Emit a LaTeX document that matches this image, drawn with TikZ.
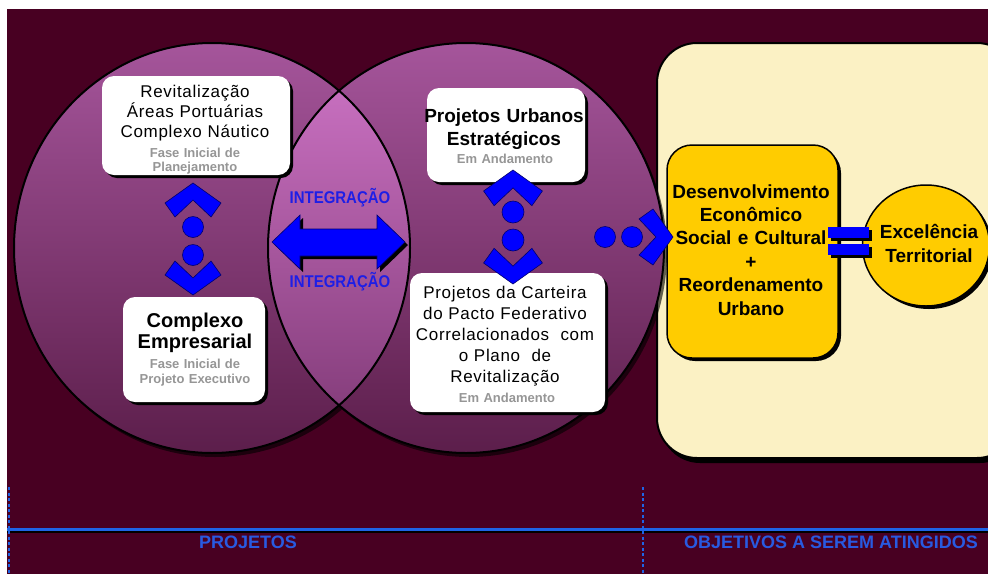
\documentclass[tikz,border=0pt]{standalone}
\usepackage{fontspec}
\setmainfont{Liberation Sans}
\newfontfamily\spacedfont[LetterSpace=4]{Liberation Sans}
\usetikzlibrary{shadows,shapes.geometric}
\definecolor{bgc}{RGB}{72,0,34}
\definecolor{circtop}{RGB}{165,85,155}
\definecolor{circbot}{RGB}{92,30,75}
\definecolor{intertop}{RGB}{208,118,200}
\definecolor{interbot}{RGB}{125,55,115}
\definecolor{cream}{RGB}{251,241,196}
\definecolor{gold}{RGB}{255,204,0}
\definecolor{conblue}{RGB}{0,0,255}
\definecolor{navy}{RGB}{0,0,110}
\definecolor{lineblue}{RGB}{30,100,230}
\definecolor{labblue}{RGB}{40,90,225}
\definecolor{intblue}{RGB}{30,30,230}
\definecolor{statgray}{RGB}{150,150,150}
\newcommand\myfs[2]{\fontsize{#1}{#2}\selectfont}
\tikzset{
  whitebox/.style={fill=white, draw=none, rounded corners=12pt, inner sep=0pt,
    drop shadow={shadow xshift=3pt, shadow yshift=-3pt, opacity=1, fill=black}},
  titletxt/.style={anchor=base, text width=230pt, align=center, inner sep=0pt, text=black},
  stattxt/.style={anchor=base, text width=200pt, align=center, inner sep=0pt, text=statgray,
    font=\bfseries\myfs{13}{14.5}},
  chevshape/.style={fill=conblue, draw=navy, line width=0.6pt},
  dotshape/.style={fill=conblue, draw=navy, line width=0.6pt},
  chev/.pic={\path[chevshape] (0,0) -- (28,20) -- (18,34) -- (0,17) -- (-18,34) -- (-28,20) -- cycle;},
  inttxt/.style={text=intblue, font=\bfseries\myfs{17}{20}, inner sep=0pt},
  labtxt/.style={text=labblue, font=\bfseries\myfs{18}{20}, inner sep=0pt},
}
\begin{document}
\begin{tikzpicture}[x=1pt,y=-1pt]
\useasboundingbox (0,0) rectangle (988,574);
% background
\fill[white] (0,0) rectangle (988,574);
\fill[bgc] (7,9) rectangle (988,574);

% objectives panel
\node[fill=cream, draw=black, line width=2pt, rounded corners=40pt, minimum width=360pt,
  minimum height=415pt, inner sep=0pt,
  drop shadow={shadow xshift=3pt, shadow yshift=-5pt, opacity=1, fill=black}] (obj) at (837,250.5) {};

% circles
\fill[black, opacity=0.6] (215,252) ellipse [x radius=198, y radius=205];
\fill[black, opacity=0.6] (469,252) ellipse [x radius=198, y radius=205];
\shade[top color=circtop, bottom color=circbot] (212,248) ellipse [x radius=198, y radius=205];
\shade[top color=circtop, bottom color=circbot] (466,248) ellipse [x radius=198, y radius=205];
\begin{scope}
  \clip (212,248) ellipse [x radius=198, y radius=205];
  \shade[top color=intertop, bottom color=interbot] (466,248) ellipse [x radius=198, y radius=205];
\end{scope}
\draw[black, line width=2pt] (212,248) ellipse [x radius=198, y radius=205];
\draw[black, line width=2pt] (466,248) ellipse [x radius=198, y radius=205];

% yellow box and ellipse
\node[fill=gold, draw=black, line width=1.5pt, rounded corners=25pt, minimum width=171pt,
  minimum height=213pt, inner sep=0pt,
  drop shadow={shadow xshift=3pt, shadow yshift=-3pt, opacity=1, fill=black}] (dev) at (752.5,251.5) {};
\node[titletxt, text width=200pt, font=\bfseries\myfs{19}{23.4}] (devt) at (751,198)
  {Desenvolvimento\\Econômico\\Social e Cultural\\+\\Reordenamento\\Urbano};
\node[ellipse, fill=gold, draw=black, line width=1.5pt, minimum width=127pt, minimum height=121pt,
  inner sep=0pt, drop shadow={shadow xshift=3pt, shadow yshift=-3pt, opacity=1, fill=black}] (exc) at (926,245.5) {};
\node[titletxt, text width=150pt, font=\bfseries\myfs{19}{24}] (exct) at (929,238)
  {Excelência\\Territorial};
% equals sign
\fill[conblue, drop shadow={shadow xshift=2.5pt, shadow yshift=-2.5pt, opacity=1, fill=black}]
  (828,227) rectangle (869,238);
\fill[conblue, drop shadow={shadow xshift=2.5pt, shadow yshift=-2.5pt, opacity=1, fill=black}]
  (828,244) rectangle (869,255);

% white boxes
\node[whitebox, minimum width=188pt, minimum height=99pt] (b1) at (196,125.5) {};
\node[whitebox, minimum width=142pt, minimum height=105pt] (b2) at (194,349.5) {};
\node[whitebox, minimum width=158pt, minimum height=94pt] (b3) at (506,135) {};
\node[whitebox, minimum width=195pt, minimum height=139pt] (b4) at (507.5,342.5) {};

\node[titletxt, font=\spacedfont\myfs{17}{20}] (t1) at (195,97)
  {Revitalização\\Áreas Portuárias\\Complexo Náutico};
\node[stattxt] (s1) at (195,157) {Fase Inicial de\\Planejamento};
\node[titletxt, font=\bfseries\myfs{20}{21}] (t2) at (195,327) {Complexo\\Empresarial};
\node[stattxt, font=\bfseries\myfs{13}{15}] (s2) at (195,368) {Fase Inicial de\\Projeto Executivo};
\node[titletxt, font=\bfseries\myfs{19}{23}] (t3) at (504,122) {Projetos Urbanos\\Estratégicos};
\node[stattxt] (s3) at (505,163) {Em Andamento};
\node[titletxt, font=\spacedfont\myfs{17}{21.2}] (t4) at (505,298)
  {Projetos da Carteira\\do Pacto Federativo\\Correlacionados\ \ com\\o Plano\ \ de\\Revitalização};
\node[stattxt] (s4) at (507,402) {Em Andamento};

% vertical connectors
\pic at (193,183) {chev};
\path[dotshape] (193,227) circle [radius=10.5];
\path[dotshape] (193,255) circle [radius=10.5];
\pic[rotate=180] at (193,295) {chev};

\pic[scale=1.05] at (513,170) {chev};
\path[dotshape] (513,212) circle [radius=11];
\path[dotshape] (513,240) circle [radius=11];
\pic[rotate=180, scale=1.05] at (513,284) {chev};

% arrow to objectives
\path[dotshape] (605,237) circle [radius=10.5];
\path[dotshape] (632,237) circle [radius=10.5];
\pic[rotate=-90] at (673,237) {chev};

% integration double arrow
\path[fill=conblue, draw=navy, line width=0.6pt,
  drop shadow={shadow xshift=3pt, shadow yshift=-3pt, opacity=1, fill=black}]
  (272,242) -- (300,215) -- (300,229) -- (377,229) -- (377,215) -- (405,242)
  -- (377,269) -- (377,256) -- (300,256) -- (300,269) -- cycle;
\node[inttxt] (i1) at (340,198) {\scalebox{0.88}[1]{INTEGRAÇÃO}};
\node[inttxt] (i2) at (340,282) {\scalebox{0.88}[1]{INTEGRAÇÃO}};

% bottom band
\draw[black, line width=2pt] (7,532) -- (988,532);
\draw[lineblue, line width=3pt] (7,529) -- (988,529);
\draw[lineblue, line width=2.5pt, dash pattern=on 3pt off 2.5pt] (9,487) -- (9,574);
\draw[lineblue, line width=2.5pt, dash pattern=on 3pt off 2.5pt] (643,487) -- (643,574);
\node[labtxt] (lp) at (248,542) {PROJETOS};
\node[labtxt] (lo) at (831,542) {OBJETIVOS A SEREM ATINGIDOS};
\end{tikzpicture}
\end{document}
